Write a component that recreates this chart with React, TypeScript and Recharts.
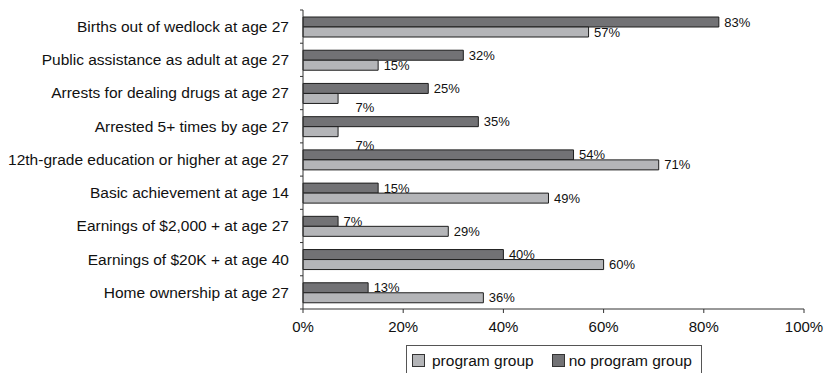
import { BarChart, Bar, XAxis, YAxis } from 'recharts'

// ─── Data ─────────────────────────────────────────────────────────────────────

const CATEGORIES = [
  'Births out of wedlock at age 27',
  'Public assistance as adult at age 27',
  'Arrests for dealing drugs at age 27',
  'Arrested 5+ times by age 27',
  '12th-grade education or higher at age 27',
  'Basic achievement at age 14',
  'Earnings of $2,000 + at age 27',
  'Earnings of $20K + at age 40',
  'Home ownership at age 27',
]
const PROGRAM = [57, 15, 7, 7, 71, 49, 29, 60, 36]
const NO_PROGRAM = [83, 32, 25, 35, 54, 15, 7, 40, 13]
const X_TICKS = [0, 20, 40, 60, 80, 100]

const data = CATEGORIES.map((name, i) => ({
  name,
  program: PROGRAM[i],
  noProgram: NO_PROGRAM[i],
}))

// ─── Layout / style ───────────────────────────────────────────────────────────

const W = 826
const H = 373
const MARGIN = { top: 10, right: 22, bottom: 34, left: 0 }
const Y_AXIS_W = 303
const X_AXIS_H = 30
const BAND = (H - MARGIN.top - MARGIN.bottom - X_AXIS_H) / CATEGORIES.length

const FONT = '"Liberation Sans", Arial, Helvetica, sans-serif'
const DARK = '#727275'
const LIGHT = '#b4b5b8'
const EDGE = '#1e1e1e'
const AXIS = '#333'

// the two small "7%" labels sit off their bars in the original
const PROGRAM_LABEL_NUDGE: Record<number, [number, number]> = {
  2: [12, 9],
  3: [12, 14],
}

// ─── Ticks & labels ───────────────────────────────────────────────────────────

// eslint-disable-next-line @typescript-eslint/no-explicit-any
function CategoryTick(props: any) {
  const { x, y, payload, index } = props
  const top = y - BAND / 2
  return (
    <g>
      <line x1={Y_AXIS_W - 3} x2={Y_AXIS_W} y1={top} y2={top} stroke={AXIS} />
      {index === CATEGORIES.length - 1 && (
        <line x1={Y_AXIS_W - 3} x2={Y_AXIS_W} y1={y + BAND / 2} y2={y + BAND / 2} stroke={AXIS} />
      )}
      <text x={x} y={y} dy="0.35em" textAnchor="end" fill="#111" fontSize={15.5} fontFamily={FONT}>
        {payload.value}
      </text>
    </g>
  )
}

function makeValueLabel(nudge: Record<number, [number, number]>) {
  // eslint-disable-next-line @typescript-eslint/no-explicit-any
  return function ValueLabel(props: any) {
    const { x, y, width, height, value, index } = props
    const [dx, dy] = nudge[index] ?? [0, 0]
    return (
      <text
        x={x + width + 5.5 + dx}
        y={y + height / 2 + dy}
        dy="0.35em"
        fill="#111"
        fontSize={13}
        fontFamily={FONT}
      >
        {value}%
      </text>
    )
  }
}

// ─── Legend ───────────────────────────────────────────────────────────────────

function Swatch({ color }: { color: string }) {
  return (
    <span style={{
      display: 'inline-block', width: 11, height: 11,
      background: color, border: `1px solid ${AXIS}`,
    }} />
  )
}

function LegendBox() {
  return (
    <div style={{
      position: 'absolute', left: 406, top: 345, width: 294, height: 29,
      border: '1px solid #555', background: '#fff',
      display: 'flex', alignItems: 'center',
      fontFamily: FONT, fontSize: 15.5, color: '#111', whiteSpace: 'nowrap',
    }}>
      <span style={{ marginLeft: 5, marginRight: 7, display: 'flex' }}><Swatch color={LIGHT} /></span>
      <span>program group</span>
      <span style={{ marginLeft: 18, marginRight: 4, display: 'flex' }}><Swatch color={DARK} /></span>
      <span>no program group</span>
    </div>
  )
}

// ─── Component ────────────────────────────────────────────────────────────────

export default function App() {
  return (
    <div style={{ position: 'absolute', left: 0, top: 0, width: W, height: H, background: '#fff' }}>
      <BarChart
        width={W}
        height={H}
        data={data}
        layout="vertical"
        margin={MARGIN}
        barCategoryGap={7}
        barGap={0}
      >
        <XAxis
          type="number"
          domain={[0, 100]}
          ticks={X_TICKS}
          tickFormatter={(v) => `${v}%`}
          height={X_AXIS_H}
          tickSize={4}
          tickMargin={8}
          stroke={AXIS}
          tick={{ fill: '#111', fontSize: 15, fontFamily: FONT }}
          interval={0}
        />
        <YAxis
          type="category"
          dataKey="name"
          width={Y_AXIS_W}
          tickSize={4}
          tickMargin={10}
          tickLine={false}
          stroke={AXIS}
          tick={<CategoryTick />}
          interval={0}
        />
        <Bar
          dataKey="noProgram"
          fill={DARK}
          stroke={EDGE}
          strokeWidth={1}
          isAnimationActive={false}
          label={makeValueLabel({})}
        />
        <Bar
          dataKey="program"
          fill={LIGHT}
          stroke={EDGE}
          strokeWidth={1}
          isAnimationActive={false}
          label={makeValueLabel(PROGRAM_LABEL_NUDGE)}
        />
      </BarChart>
      <LegendBox />
    </div>
  )
}
